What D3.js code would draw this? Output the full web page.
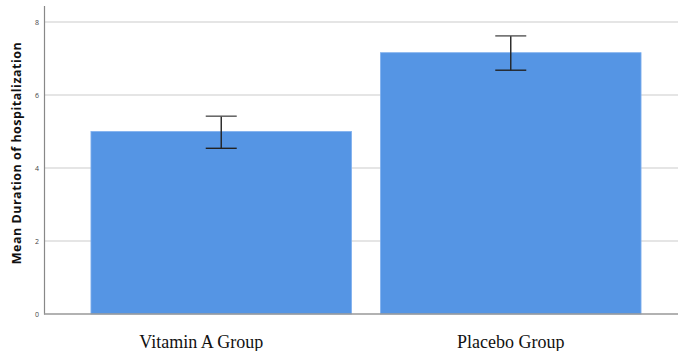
<!DOCTYPE html>
<html lang="en">
<head>
<meta charset="utf-8">
<title>Mean Duration of hospitalization</title>
<script src="https://d3js.org/d3.v7.min.js"></script>
<style>
  body { margin: 0; background: #fff; }
  .grid line { stroke: #dcdcdc; stroke-width: 1.6; }
  .yaxis text { font-family: "Open Sans", sans-serif; font-size: 7px; fill: #444; }
  .xlabel { font-family: "Liberation Serif", "Times New Roman", serif; font-size: 18px; fill: #111; }
  .ytitle { font-family: "Open Sans", sans-serif; font-size: 12.5px; font-weight: bold; fill: #111; letter-spacing: 0.5px; }
</style>
</head>
<body>
<script>
var groups = ["Vitamin A Group", "Placebo Group"];
var means = [5.0, 7.16];
var ciLow = [4.54, 6.68];
var ciHigh = [5.42, 7.62];
var yTicks = [0, 2, 4, 6, 8];

var w = 678, h = 351;
var left = 44, right = 678, y0 = 314;

var svg = d3.select("body").append("svg")
    .attr("width", w)
    .attr("height", h);

var x = d3.scaleBand()
    .domain(groups)
    .range([62, 670])
    .paddingInner(0.1)
    .paddingOuter(0.1);

var y = d3.scaleLinear()
    .domain([0, 8.45])
    .range([y0, 5.6]);

// gridlines
svg.append("g").attr("class", "grid")
    .selectAll("line")
    .data(yTicks.filter(function(d) { return d > 0; }))
    .enter().append("line")
    .attr("x1", left).attr("x2", right)
    .attr("y1", function(d) { return y(d); })
    .attr("y2", function(d) { return y(d); });

// bars
svg.selectAll("rect.bar")
    .data(groups)
    .enter().append("rect")
    .attr("class", "bar")
    .attr("x", function(d) { return x(d); })
    .attr("width", x.bandwidth())
    .attr("y", function(d, i) { return y(means[i]); })
    .attr("height", function(d, i) { return y0 - y(means[i]); })
    .attr("fill", "#5595e4")
    .attr("stroke", "#7fb0ee")
    .attr("stroke-width", 0.8);

// error bars
var capW = 31;
var eb = svg.selectAll("g.err")
    .data(groups)
    .enter().append("g").attr("class", "err")
    .attr("stroke", "#222")
    .attr("stroke-width", 1.4);
eb.append("line")
    .attr("x1", function(d) { return x(d) + x.bandwidth() / 2; })
    .attr("x2", function(d) { return x(d) + x.bandwidth() / 2; })
    .attr("y1", function(d, i) { return y(ciHigh[i]); })
    .attr("y2", function(d, i) { return y(ciLow[i]); });
eb.append("line")
    .attr("x1", function(d) { return x(d) + x.bandwidth() / 2 - capW / 2; })
    .attr("x2", function(d) { return x(d) + x.bandwidth() / 2 + capW / 2; })
    .attr("y1", function(d, i) { return y(ciHigh[i]); })
    .attr("y2", function(d, i) { return y(ciHigh[i]); })
    .attr("stroke", "#555");
eb.append("line")
    .attr("x1", function(d) { return x(d) + x.bandwidth() / 2 - capW / 2; })
    .attr("x2", function(d) { return x(d) + x.bandwidth() / 2 + capW / 2; })
    .attr("y1", function(d, i) { return y(ciLow[i]); })
    .attr("y2", function(d, i) { return y(ciLow[i]); });

// y axis
var yAxis = d3.axisLeft(y).tickValues(yTicks).tickSize(0).tickPadding(5);
var ya = svg.append("g").attr("class", "yaxis")
    .attr("transform", "translate(" + left + ",0)")
    .call(yAxis);
ya.select(".domain").attr("stroke", "#888").attr("stroke-width", 1.2);

// baseline
svg.append("line")
    .attr("x1", left).attr("x2", right)
    .attr("y1", y0).attr("y2", y0)
    .attr("stroke", "#999")
    .attr("stroke-width", 1.4);

// x labels
svg.selectAll("text.xlabel")
    .data(groups)
    .enter().append("text")
    .attr("class", "xlabel")
    .attr("text-anchor", "middle")
    .attr("x", function(d, i) { return x(d) + x.bandwidth() / 2 + (i === 0 ? -20 : 0); })
    .attr("y", 348)
    .text(function(d) { return d; });

// y title
svg.append("text")
    .attr("class", "ytitle")
    .attr("text-anchor", "middle")
    .attr("transform", "translate(21,153) rotate(-90)")
    .text("Mean Duration of hospitalization");
</script>
</body>
</html>
